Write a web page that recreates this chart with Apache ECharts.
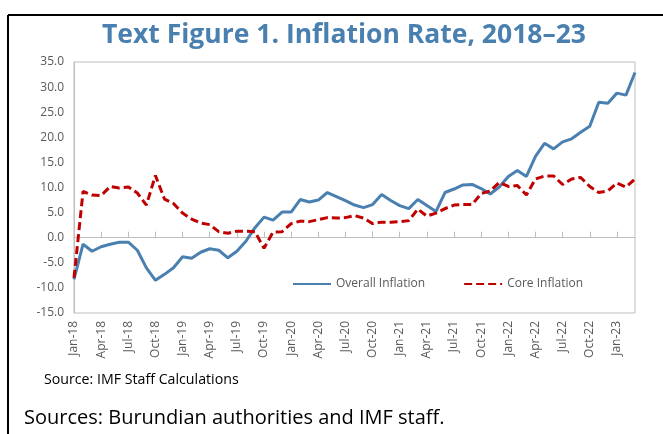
<!DOCTYPE html>
<html>
<head>
<meta charset="utf-8">
<script src="https://cdn.jsdelivr.net/npm/echarts@6/dist/echarts.min.js"></script>
<style>
  html, body { margin: 0; padding: 0; background: #fff; }
  #chart { width: 663px; height: 434px; }
</style>
</head>
<body>
<div id="chart"></div>
<script>
// monthly labels Jan-18 .. Mar-23
const monthNames = ['Jan', 'Feb', 'Mar', 'Apr', 'May', 'Jun', 'Jul', 'Aug', 'Sep', 'Oct', 'Nov', 'Dec'];
const months = [];
for (let y = 18; y <= 23; y++) {
    for (let m = 0; m < 12; m++) {
        if (y === 23 && m > 2) break;
        months.push(monthNames[m] + '-' + y);
    }
}

const overallInflation = [
    -8.3, -1.3, -2.7, -1.8, -1.3, -0.9, -0.9, -2.5, -6.0, -8.5, -7.3, -6.0,
    -3.8, -4.1, -2.9, -2.2, -2.5, -4.0, -2.7, -0.7, 2.0, 4.1, 3.5, 5.1,
    5.1, 7.6, 7.1, 7.5, 9.0, 8.2, 7.4, 6.5, 6.0, 6.6, 8.6, 7.4,
    6.4, 5.8, 7.6, 6.4, 5.2, 9.0, 9.7, 10.5, 10.6, 9.8, 8.7, 10.1,
    12.2, 13.4, 12.2, 16.2, 18.8, 17.7, 19.1, 19.7, 21.0, 22.2, 27.0, 26.8,
    28.8, 28.4, 32.9
];
const coreInflation = [
    -8.0, 9.2, 8.5, 8.4, 10.2, 9.9, 10.1, 8.9, 6.5, 12.4, 7.7, 6.8,
    4.9, 3.7, 2.9, 2.6, 1.2, 0.9, 1.3, 1.3, 1.2, -2.1, 1.1, 1.2,
    2.8, 3.3, 3.2, 3.6, 4.0, 3.9, 4.0, 4.4, 3.9, 2.8, 3.1, 3.1,
    3.2, 3.4, 5.7, 4.3, 4.9, 5.8, 6.5, 6.6, 6.6, 8.8, 9.3, 11.0,
    10.2, 10.4, 8.5, 11.7, 12.3, 12.3, 10.6, 11.7, 12.0, 10.2, 9.0, 9.3,
    10.9, 10.1, 11.7
];

const font = '"Open Sans", "Noto Sans", sans-serif';
const chart = echarts.init(document.getElementById('chart'));

const option = {
    animation: false,
    backgroundColor: '#fff',
    textStyle: { fontFamily: font },
    title: {
        text: 'Text Figure 1. Inflation Rate, 2018–23',
        left: 97,
        top: 17,
        textStyle: {
            fontFamily: font,
            fontSize: 26.5,
            fontWeight: 'bold',
            color: '#4a80b0'
        }
    },
    graphic: [
        // outer frame
        { type: 'line', shape: { x1: 8, y1: 15, x2: 663, y2: 15 }, style: { stroke: '#000', lineWidth: 2 } },
        { type: 'line', shape: { x1: 8, y1: 15, x2: 8, y2: 434 }, style: { stroke: '#000', lineWidth: 2 } },
        {
            type: 'text', left: 44, top: 373,
            style: { text: 'Source: IMF Staff Calculations', font: '14.2px ' + font, fill: '#000' }
        },
        {
            type: 'text', left: 24, top: 408,
            style: { text: 'Sources: Burundian authorities and IMF staff.', font: '20px ' + font, fill: '#000' }
        }
    ],
    legend: {
        left: 287,
        top: 273,
        itemWidth: 38,
        itemHeight: 12,
        itemGap: 38,
        itemStyle: { opacity: 0 },
        textStyle: { fontFamily: font, fontSize: 12, color: '#595959' },
        data: ['Overall Inflation', 'Core Inflation']
    },
    grid: {
        left: 74,
        right: 28,
        top: 62,
        bottom: 121,
        show: true,
        borderColor: '#bfbfbf',
        borderWidth: 1
    },
    xAxis: [
        {
            type: 'category',
            data: months,
            boundaryGap: false,
            position: 'bottom',
            axisLine: { show: false, onZero: false },
            axisTick: { show: false },
            axisLabel: {
                interval: 2,
                rotate: 90,
                margin: 8,
                fontSize: 12,
                color: '#595959',
                fontFamily: font
            }
        },
        {
            type: 'category',
            data: months,
            boundaryGap: false,
            position: 'bottom',
            axisLine: { show: true, onZero: true, lineStyle: { color: '#bfbfbf', width: 1 } },
            axisTick: { show: true, inside: true, interval: 2, length: 6, lineStyle: { color: '#bfbfbf' } },
            axisLabel: { show: false }
        }
    ],
    yAxis: {
        type: 'value',
        min: -15,
        max: 35,
        interval: 5,
        axisLine: { show: true, lineStyle: { color: '#bfbfbf' } },
        axisTick: { show: false },
        splitLine: { show: false },
        axisLabel: {
            fontSize: 12,
            color: '#595959',
            margin: 10,
            fontFamily: font,
            formatter: v => v.toFixed(1)
        }
    },
    series: [
        {
            name: 'Overall Inflation',
            type: 'line',
            data: overallInflation,
            symbol: 'none',
            lineStyle: { color: '#4a80b0', width: 3 },
            itemStyle: { color: '#4a80b0' }
        },
        {
            name: 'Core Inflation',
            type: 'line',
            data: coreInflation,
            symbol: 'none',
            lineStyle: { color: '#c00000', width: 3, type: [8, 4] },
            itemStyle: { color: '#c00000' }
        }
    ]
};

chart.setOption(option);
</script>
</body>
</html>
